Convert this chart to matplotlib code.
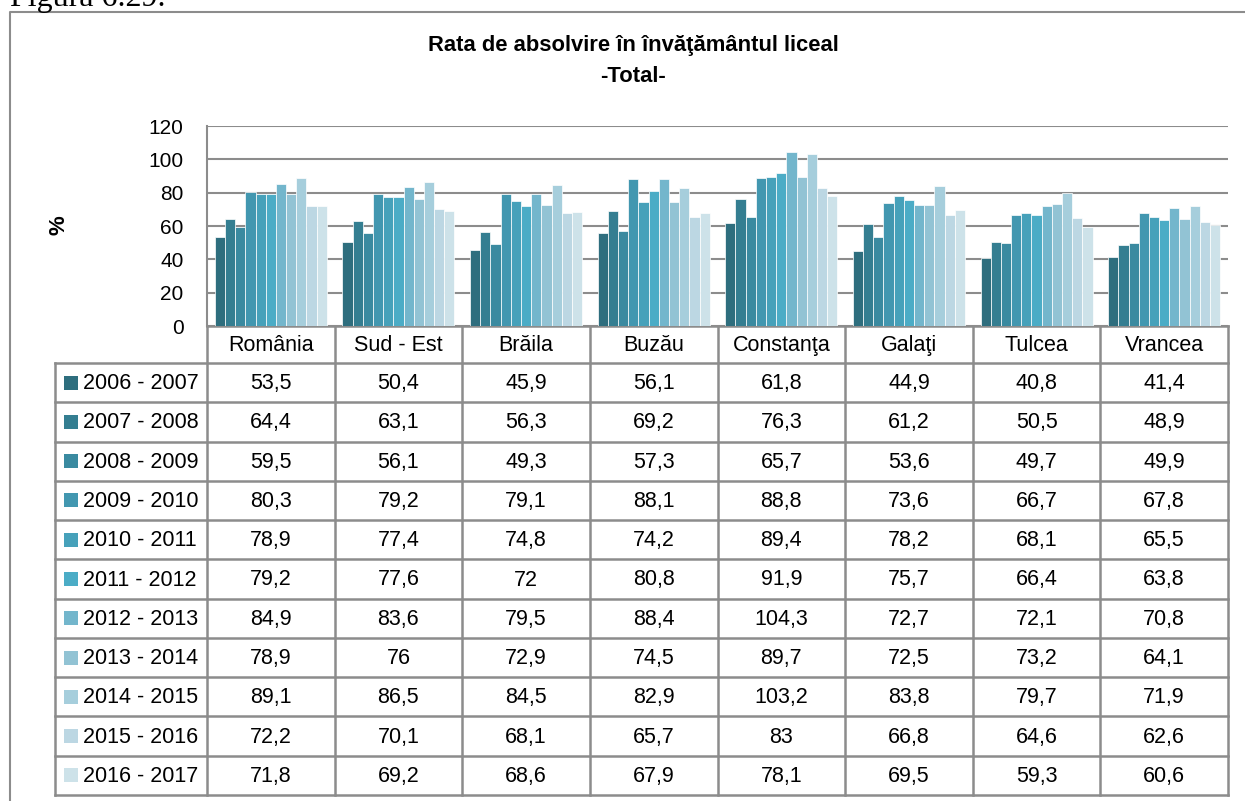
import numpy as np
import matplotlib.pyplot as plt
from matplotlib.patches import Rectangle

plt.rcParams['font.family'] = ['Liberation Sans', 'DejaVu Sans']

categories = ['România', 'Sud - Est', 'Brăila', 'Buzău', 'Constanţa', 'Galaţi', 'Tulcea', 'Vrancea']
years = ['2006 - 2007', '2007 - 2008', '2008 - 2009', '2009 - 2010', '2010 - 2011', '2011 - 2012',
         '2012 - 2013', '2013 - 2014', '2014 - 2015', '2015 - 2016', '2016 - 2017']
values = [
    [53.5, 50.4, 45.9, 56.1, 61.8, 44.9, 40.8, 41.4],
    [64.4, 63.1, 56.3, 69.2, 76.3, 61.2, 50.5, 48.9],
    [59.5, 56.1, 49.3, 57.3, 65.7, 53.6, 49.7, 49.9],
    [80.3, 79.2, 79.1, 88.1, 88.8, 73.6, 66.7, 67.8],
    [78.9, 77.4, 74.8, 74.2, 89.4, 78.2, 68.1, 65.5],
    [79.2, 77.6, 72.0, 80.8, 91.9, 75.7, 66.4, 63.8],
    [84.9, 83.6, 79.5, 88.4, 104.3, 72.7, 72.1, 70.8],
    [78.9, 76.0, 72.9, 74.5, 89.7, 72.5, 73.2, 64.1],
    [89.1, 86.5, 84.5, 82.9, 103.2, 83.8, 79.7, 71.9],
    [72.2, 70.1, 68.1, 65.7, 83.0, 66.8, 64.6, 62.6],
    [71.8, 69.2, 68.6, 67.9, 78.1, 69.5, 59.3, 60.6],
]
colors = ['#2E6E7E', '#347E91', '#3A8AA0', '#4297B0', '#46A1BA', '#4BACC6',
          '#73B6CC', '#92C3D4', '#A6CEDC', '#BCD7E3', '#CDE2E9']
yticks = [0, 20, 40, 60, 80, 100, 120]

W, H = 1245, 801
fig = plt.figure(figsize=(W / 100, H / 100), dpi=100)
grey = '#8C8C8C'

# pixel layout
px_left, px_right = 207, 1228
px_top, px_zero = 126, 326
head_bot = 363
tab_bot = 795
leg_left = 55
fs_tab = 15.5

def fx(x):
    return x / W

def fy(y):
    return 1 - y / H

# overlay for frame, table and texts, in pixel coordinates
ov = fig.add_axes([0, 0, 1, 1])
ov.set_xlim(0, W)
ov.set_ylim(H, 0)
ov.axis('off')

ov.plot([10, 10, W], [H, 12, 12], color=grey, lw=1.5, solid_capstyle='butt')
ov.text(10, 6, 'Figura 6.29.', family=['Liberation Serif', 'DejaVu Serif'],
        fontsize=23, va='baseline', ha='left')

ov.text(633, 46, 'Rata de absolvire în învăţământul liceal', fontsize=15.8,
        fontweight='bold', ha='center', va='center')
ov.text(633, 76, '-Total-', fontsize=15.8, fontweight='bold', ha='center', va='center')
ov.text(59, 225, '%', fontsize=16, fontweight='bold', rotation=90, ha='center', va='center')

# bar chart
ax = fig.add_axes([fx(px_left), fy(px_zero), fx(px_right - px_left), (px_zero - px_top) / H])
ax.set_zorder(2)
ax.patch.set_alpha(0)
n = len(years)
group = 0.878
bw = group / n
x = np.arange(len(categories)) + 0.5
for i, (yr, vals) in enumerate(zip(years, values)):
    ax.bar(x - group / 2 + bw * (i + 0.5), vals, width=bw, color=colors[i],
           edgecolor='white', linewidth=0.5, zorder=3)
ax.set_xlim(0, len(categories))
ax.set_ylim(0, 120)
ax.set_yticks(yticks)
ax.set_yticklabels([str(t) for t in yticks], fontsize=15)
ax.set_xticks([])
ax.tick_params(axis='y', length=0, pad=17)
ax.grid(axis='y', color=grey, lw=1.5, zorder=0)
for s in ['top', 'right', 'bottom']:
    ax.spines[s].set_visible(False)
ax.spines['left'].set_color(grey)
ax.spines['left'].set_linewidth(1.5)

# data table
col_w = (px_right - px_left) / len(categories)
row_h = (tab_bot - head_bot) / n
lw_t = 1.8
ov.plot([px_left, px_right], [px_zero, px_zero], color=grey, lw=lw_t)
for k in range(len(categories) + 1):
    xx = px_left + k * col_w
    ov.plot([xx, xx], [px_zero, tab_bot], color=grey, lw=lw_t)
ov.plot([leg_left, leg_left], [head_bot, tab_bot], color=grey, lw=lw_t)
for r in range(n + 1):
    yy = head_bot + r * row_h
    ov.plot([leg_left, px_right], [yy, yy], color=grey, lw=lw_t)

for k, cat in enumerate(categories):
    ov.text(px_left + (k + 0.5) * col_w, (px_zero + head_bot) / 2 + 1, cat,
            fontsize=fs_tab, ha='center', va='center')

for r, (yr, vals) in enumerate(zip(years, values)):
    yc = head_bot + (r + 0.5) * row_h
    ov.add_patch(Rectangle((64, yc - 7), 14, 14, color=colors[r], lw=0))
    ov.text(83, yc + 1, yr, fontsize=fs_tab, ha='left', va='center')
    for k, v in enumerate(vals):
        s = ('%g' % v).replace('.', ',')
        ov.text(px_left + (k + 0.5) * col_w, yc + 1, s, fontsize=fs_tab, ha='center', va='center')

fig.savefig('out.png', dpi=100)
